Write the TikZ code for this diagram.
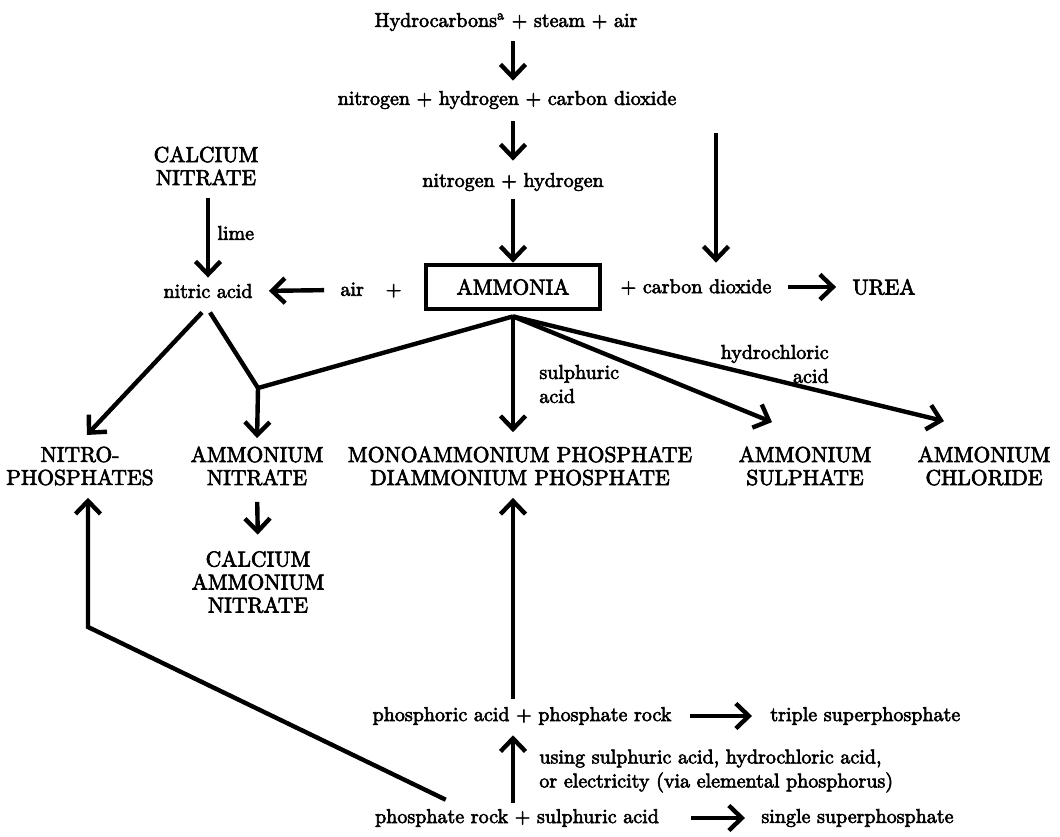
\documentclass[tikz,border=0pt]{standalone}
\usepackage{fontspec}
\setmainfont{lmroman10-regular}[Extension=.otf, FakeBold=3]
\usetikzlibrary{arrows.meta, calc, positioning}
\tikzset{
    flow/.style={line width=2.2pt, -{Straight Barb[length=6.5pt,width=12.5pt]}},
    link/.style={line width=2.2pt},
    chem/.style={inner sep=2pt, font=\fontsize{10}{12}\selectfont},
    prod/.style={inner sep=2pt, align=center, font=\fontsize{10.8}{11.5}\selectfont},
    note/.style={inner sep=1pt, font=\fontsize{10}{12}\selectfont},
    mainbox/.style={draw, line width=2.4pt, minimum width=87pt, minimum height=22pt,
        font=\fontsize{10.8}{12}\selectfont}}

\begin{document}
\begin{tikzpicture}[x=0.5pt, y=-0.5pt]
\useasboundingbox (0,0) rectangle (1060,836);
% feed gas and ammonia
\node[chem] (hc)  at (506,22)  {Hydrocarbons\textsuperscript{a} + steam + air};
\node[chem] (nhc) at (507,100) {nitrogen + hydrogen + carbon dioxide};
\node[chem] (nh)  at (513,182) {nitrogen + hydrogen};
\node[mainbox] (amm) at (513,287) {AMMONIA};
\node[chem] (cdx) at (696,287) {+ carbon dioxide};
\node[prod] (urea) at (884,287) {UREA};
\node[chem] (airp) at (371,290) {air\hspace{1.1em}+};
\node[chem] (nitric) at (208,291) {nitric acid};
\node[prod] (cn) at (206,166) {CALCIUM\\NITRATE};
\node[note, anchor=west] (lime) at (215,233) {lime};
% products
\node[prod] (nitro) at (80,466) {NITRO-\\PHOSPHATES};
\node[prod] (an) at (257,466) {AMMONIUM\\NITRATE};
\node[prod] (map) at (520,466) {MONOAMMONIUM PHOSPHATE\\DIAMMONIUM PHOSPHATE};
\node[prod] (as) at (805,466) {AMMONIUM\\SULPHATE};
\node[prod] (acl) at (984,466) {AMMONIUM\\CHLORIDE};
\node[prod] (can) at (258,582) {CALCIUM\\AMMONIUM\\NITRATE};
\node[note, anchor=west, align=left] (sa) at (537,384) {sulphuric\\acid};
\node[note, anchor=east, align=right] (hcl) at (831,364) {hydrochloric\\acid};
% phosphate side
\node[chem] (par) at (522,716) {phosphoric acid + phosphate rock};
\node[chem, anchor=west] (tsp) at (766,716) {triple superphosphate};
\node[chem] (prs) at (517,818) {phosphate rock + sulphuric acid};
\node[chem, anchor=west] (ssp) at (757,818) {single superphosphate};
\node[note, anchor=west, align=left] (using) at (537,771)
    {using sulphuric acid, hydrochloric acid,\\or electricity (via elemental phosphorus)};

% helper points
\coordinate (co2top) at (716,133);
\coordinate (ammfoot) at ($(amm.south)+(0,5)$);
\coordinate (jn) at (258,388);
\coordinate (nafootl) at ($(nitric.south)+(-6,10)$);
\coordinate (nafootr) at ($(nitric.south)+(2,10)$);
\coordinate (astip) at ($(as.north)+(-33,-20)$);
\coordinate (acltip) at ($(acl.north)+(-40,-21)$);
\coordinate (rockfoot) at ($(prs.north west)+(75,-5)$);
\coordinate (bend) at (88,627);

% arrows
\draw[flow, shorten <=3pt, shorten >=3pt] (hc.south -| nh) -- (nhc.north -| nh);
\draw[flow, shorten <=4pt, shorten >=4pt] (nhc.south -| nh) -- (nh.north);
\draw[flow, shorten <=2pt] (nh.south) -- (nh.south |- amm.north);
\draw[flow] (co2top) -- (co2top |- amm.north);
\draw[flow, shorten <=6pt, shorten >=6pt] (cdx.east) -- (urea.west);
\draw[flow, shorten <=6pt, shorten >=6pt] (airp.west) -- (nitric.east);
\draw[flow, shorten <=4pt, shorten >=1pt] (cn.south -| nitric) -- (nitric.north);
\draw[flow, shorten >=5pt] (nafootl) -- (nitro.north);
\draw[link] (nafootr) -- (jn) -- (ammfoot);
\draw[flow, shorten >=2pt] (jn) -- (an.north);
\draw[flow, shorten >=5pt] (ammfoot) -- (ammfoot |- map.north);
\draw[flow] (ammfoot) -- (astip);
\draw[flow] (ammfoot) -- (acltip);
\draw[flow, shorten <=6pt, shorten >=6pt] (an.south) -- (can.north);
\draw[flow, shorten <=2pt, shorten >=4pt] (par.north -| ammfoot) -- (ammfoot |- map.south);
\draw[flow, shorten <=1pt, shorten >=3pt] (prs.north -| ammfoot) -- (par.south -| ammfoot);
\draw[flow, shorten <=7pt, shorten >=7pt] (par.east) -- (tsp.west);
\draw[flow, shorten <=14pt, shorten >=6pt] (prs.east) -- (ssp.west);
\draw[flow, line join=miter, shorten >=4pt] (rockfoot) -- (bend) -- (bend |- nitro.south);
\end{tikzpicture}
\end{document}
